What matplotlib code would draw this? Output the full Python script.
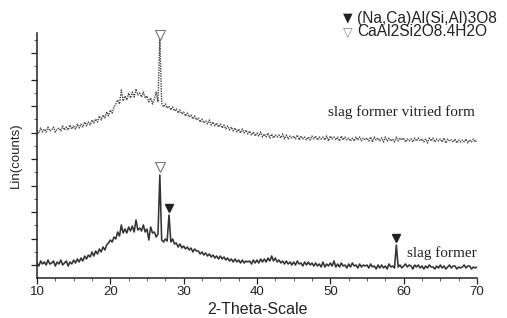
import numpy as np
import matplotlib
matplotlib.use("Agg")
import matplotlib.pyplot as plt
from matplotlib.ticker import MultipleLocator

# 2-theta grid (degrees), 0.25 deg step
two_theta = np.arange(10.0, 70.0001, 0.25)

# lower pattern: "slag former"
slag_former = [
    15, 12, 17, 14,  16, 13, 18, 14,  15, 17, 12, 16,  14, 18, 13, 15,  17, 12, 16, 14,   # 10-14
    18, 15, 19, 16,  20, 17, 22, 19,  23, 21, 26, 22,  27, 24, 29, 26,  31, 28, 33, 35,   # 15-19
    38, 36, 41, 39,  46, 42, 53, 45,  49, 45, 51, 47,  52, 46, 58, 48,  50, 47, 53, 46,   # 20-24
    49, 38, 51, 45,  46, 41, 44, 103, 38, 36, 39, 37,  63, 36, 39, 34,  35, 31, 34, 30,   # 25-29
    32, 29, 31, 28,  30, 26, 29, 27,  27, 24, 26, 23,  25, 22, 24, 21,  23, 20, 22, 19,   # 30-34
    22, 19, 21, 18,  20, 17, 19, 16,  19, 16, 18, 15,  18, 15, 17, 16,  17, 14, 18, 15,   # 35-39
    18, 15, 19, 16,  19, 16, 20, 17,  22, 17, 20, 16,  18, 15, 17, 14,  17, 14, 16, 13,   # 40-44
    16, 13, 17, 14,  15, 12, 16, 13,  16, 13, 15, 12,  15, 12, 14, 11,  16, 11, 14, 12,   # 45-49
    15, 12, 17, 11,  14, 11, 15, 12,  13, 10, 14, 11,  15, 12, 13, 10,  14, 11, 13, 12,   # 50-54
    13, 10, 14, 11,  12, 9, 13, 10,   13, 10, 12, 9,   14, 11, 12, 10,  33, 11, 13, 10,   # 55-59
    12, 14, 11, 13,  12, 9, 13, 11,   13, 10, 12, 9,   12, 10, 13, 11,  11, 9, 12, 10,    # 60-64
    13, 10, 12, 9,   11, 13, 10, 12,  12, 9, 11, 10,   11, 13, 10, 12,  12, 9, 11, 10,    # 65-69
    11,
]

# upper pattern: "slag former vitried form" (offset)
vitrified = [
    148, 145, 150, 146,  149, 146, 151, 147,  148, 151, 146, 149,  150, 147, 152, 148,  151, 148, 153, 149,
    152, 149, 154, 150,  154, 151, 156, 152,  156, 153, 158, 155,  159, 156, 162, 158,  163, 160, 166, 162,
    168, 165, 171, 174,  178, 174, 188, 177,  182, 178, 185, 180,  186, 181, 189, 183,  185, 181, 186, 180,
    182, 176, 180, 174,  179, 186, 176, 241,  175, 171, 174, 170,  172, 168, 171, 167,  169, 165, 168, 164,
    166, 162, 165, 161,  163, 159, 162, 158,  160, 156, 159, 155,  157, 154, 158, 153,  156, 152, 155, 151,
    154, 150, 153, 149,  152, 148, 151, 147,  150, 146, 149, 145,  149, 145, 148, 144,  147, 143, 146, 142,
    145, 142, 146, 141,  144, 141, 145, 140,  144, 140, 143, 141,  143, 140, 144, 139,  143, 139, 142, 140,
    142, 139, 143, 138,  142, 139, 141, 138,  141, 138, 142, 139,  142, 138, 141, 139,  141, 138, 142, 137,
    142, 139, 141, 138,  141, 137, 142, 138,  141, 138, 140, 137,  140, 137, 141, 138,  141, 137, 140, 138,
    140, 137, 141, 136,  141, 138, 140, 137,  140, 136, 141, 137,  140, 137, 139, 136,  141, 137, 140, 138,
    140, 136, 139, 137,  139, 136, 140, 137,  140, 137, 139, 136,  139, 135, 140, 137,  140, 136, 139, 137,
    139, 136, 140, 135,  139, 137, 138, 136,  139, 135, 138, 136,  138, 136, 139, 135,  138, 136, 139, 136,
    138,
]

# phase markers
feldspar_x = [28.0, 59.0]          # (Na,Ca)Al(Si,Al)3O8
feldspar_y = [70, 40]
gismondine_x = [26.75, 26.75]      # CaAl2Si2O8.4H2O
gismondine_y = [111, 243]

xticks = [10, 20, 30, 40, 50, 60, 70]
legend_labels = ["(Na,Ca)Al(Si,Al)3O8", "CaAl2Si2O8.4H2O"]
series_labels = ["slag former vitried form", "slag former"]

fig = plt.figure(figsize=(5.07, 3.18), dpi=100)
ax = fig.add_axes([37/507, 40/318, 440/507, 245/318])

ax.plot(two_theta, slag_former, color="#333333", lw=1.15)
ax.plot(two_theta, vitrified, color="#444444", lw=1.0, ls=(0, (1, 0.8)))

ax.plot(feldspar_x, feldspar_y, ls="none", marker="v", ms=6,
        mfc="#222222", mec="#222222", clip_on=False)
ax.plot(gismondine_x, gismondine_y, ls="none", marker="v", ms=7,
        mfc="white", mec="#777777", mew=0.8, clip_on=False)

ax.set_xlim(10, 70)
ax.set_ylim(0, 245)
ax.set_xticks(xticks)
ax.set_xticklabels([str(t) for t in xticks], fontsize=9.5, fontfamily="Liberation Sans", color="#222222")
ax.xaxis.set_minor_locator(MultipleLocator(2.5))
ax.set_yticks(np.arange(13, 245, 26.5))
ax.set_yticklabels([])
ax.yaxis.set_minor_locator(plt.FixedLocator(np.arange(26.25, 245, 26.5)))
ax.tick_params(axis="both", which="major", direction="out", length=4, width=0.9, color="#222222", pad=2)
ax.tick_params(axis="both", which="minor", direction="out", length=2, width=0.6, color="#444444")

for s in ["top", "right"]:
    ax.spines[s].set_visible(False)
for s in ["left", "bottom"]:
    ax.spines[s].set_linewidth(1.1)
    ax.spines[s].set_color("#222222")

ax.set_xlabel("2-Theta-Scale", fontsize=11.5, fontfamily="Liberation Sans", labelpad=3, color="#222222")
ax.set_ylabel("Lin(counts)", fontsize=9.5, fontfamily="Liberation Sans", labelpad=5, color="#222222")

ax.text(49.7, 166, series_labels[0], fontsize=11, fontfamily="Liberation Serif",
        va="center", ha="left", color="#222222")
ax.text(60.4, 25, series_labels[1], fontsize=11, fontfamily="Liberation Serif",
        va="center", ha="left", color="#222222")

fig.text(343/507, 1 - 18/318, "\u25BC", fontsize=9, family=["DejaVu Sans"], color="#222222", va="center")
fig.text(357/507, 1 - 18/318, legend_labels[0], fontsize=11.2,
         family=["Liberation Sans", "DejaVu Sans"], color="#222222", va="center")
fig.text(343/507, 1 - 32/318, "\u25BD", fontsize=9, family=["DejaVu Sans"], color="#888888", va="center")
fig.text(357/507, 1 - 32/318, legend_labels[1], fontsize=11.2,
         family=["Liberation Sans", "DejaVu Sans"], color="#222222", va="center")

fig.savefig("out.png", dpi=100)
